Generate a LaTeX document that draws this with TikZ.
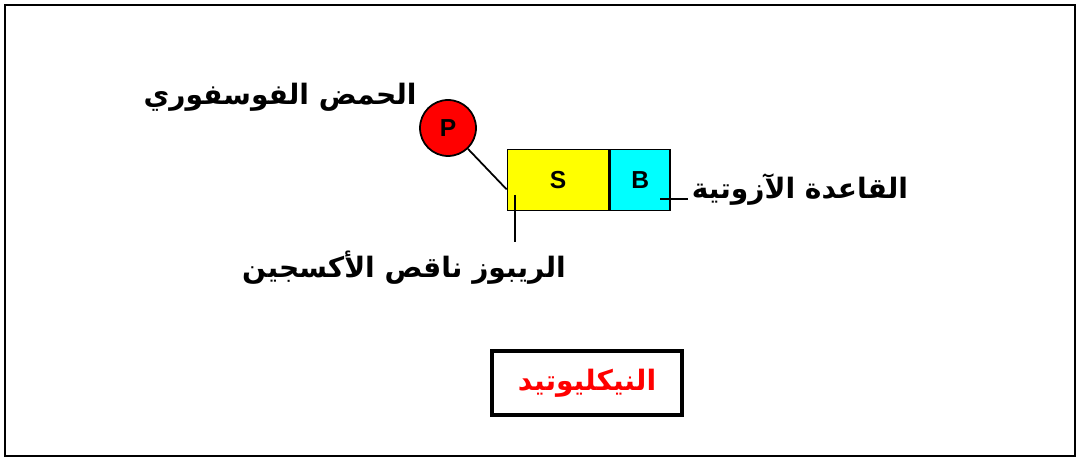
\documentclass[tikz,border=0pt]{standalone}
\usepackage{fontspec}
\setmainfont{Liberation Sans}
\setsansfont{Liberation Sans}
\newfontfamily\arabicfont[Script=Arabic]{DejaVu Sans}
\TeXXeTstate=1
\usepackage{xcolor}
\usetikzlibrary{positioning}
\definecolor{ntRed}{HTML}{FF0000}
\definecolor{ntYellow}{HTML}{FFFF00}
\definecolor{ntCyan}{HTML}{00FFFF}

\begin{document}
\begin{tikzpicture}[
  x=0.02cm, y=-0.02cm,
  every node/.style={font=\sffamily},
  part/.style={draw, line width=1pt, minimum height=1.22cm, inner sep=0pt,
    font=\sffamily\bfseries\fontsize{14}{16}\selectfont},
  lbl/.style={font=\arabicfont\bfseries\fontsize{16}{18}\selectfont, inner sep=2pt},
  lead/.style={line width=0.8pt},
]

% Frame
\useasboundingbox (0,0) rectangle (1078,462);
\draw[line width=1.2pt] (5,5) rectangle (1075,456);

% Nucleotide parts
\node[part, fill=ntYellow, minimum width=2.02cm] (sugar) at (558,180) {S};
\node[part, fill=ntCyan, minimum width=1.2cm, right=0pt of sugar] (base) {B};
\node[part, circle, fill=ntRed, minimum size=1.12cm, minimum height=0pt] (phos) at (448,128) {P};

% Bond phosphate -- sugar
\draw[line width=1pt] (phos) -- ([yshift=0.44cm]sugar.south west);

% Labels
\node[lbl] (phosLbl) at (280,97) {\beginR الحمض الفوسفوري\endR};
\node[lbl, anchor=west] (baseLbl) at (688,190) {\beginR القاعدة الآزوتية\endR};
\node[lbl] (sugarLbl) at (404,268) {\beginR الريبوز ناقص الأكسجين\endR};

% Leader lines
\coordinate (baseTip) at (660,199);
\draw[lead] (baseTip) -- (baseTip -| baseLbl.west);
\coordinate (sugarTip) at (515,195);
\draw[lead] (sugarTip) -- (515,242);

% Title box
\node[draw, line width=1.8pt, minimum width=3.8cm, minimum height=1.28cm,
  text=ntRed, font=\arabicfont\bfseries\fontsize{16}{18}\selectfont] (title) at (587,383)
  {\beginR النيكليوتيد\endR};

\end{tikzpicture}
\end{document}
